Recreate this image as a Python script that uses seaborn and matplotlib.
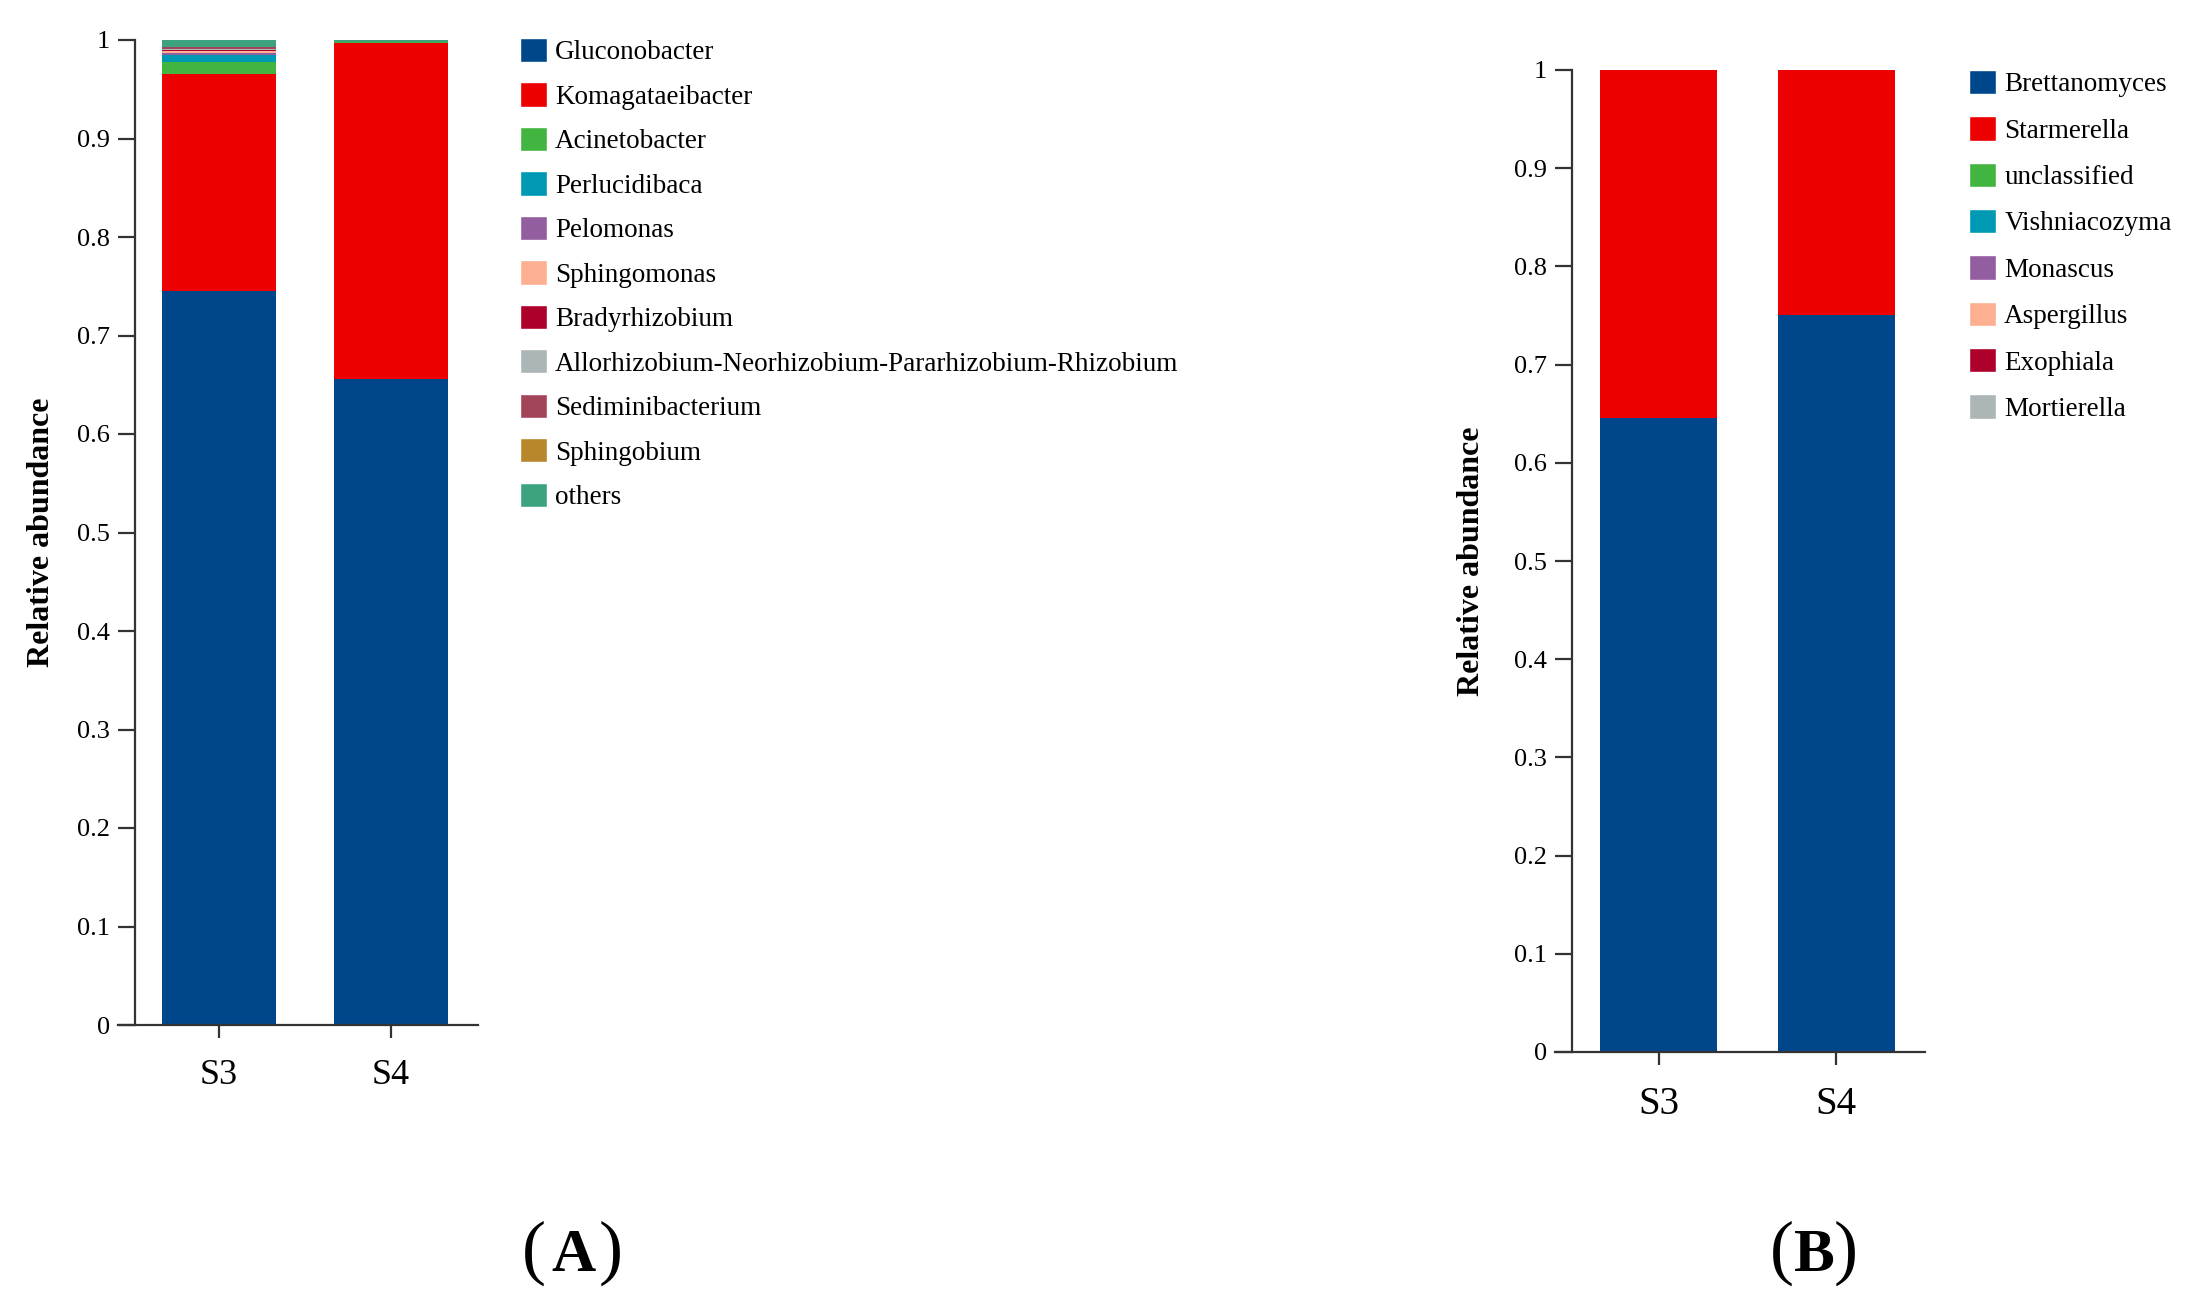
import numpy as np
import matplotlib
matplotlib.use("Agg")
import matplotlib.pyplot as plt
from matplotlib.patches import Patch
import seaborn as sns

# ---- data ----
samples = ["S3", "S4"]

bact_taxa = ["Gluconobacter", "Komagataeibacter", "Acinetobacter", "Perlucidibaca",
             "Pelomonas", "Sphingomonas", "Bradyrhizobium",
             "Allorhizobium-Neorhizobium-Pararhizobium-Rhizobium",
             "Sediminibacterium", "Sphingobium", "others"]
bact_s3 = [0.745, 0.220, 0.013, 0.007, 0.002, 0.002, 0.001, 0.001, 0.002, 0.000, 0.007]
bact_s4 = [0.656, 0.341, 0.001, 0.000, 0.000, 0.000, 0.000, 0.000, 0.000, 0.000, 0.002]
bact_colors = ["#00468B", "#ED0000", "#42B540", "#0099B4", "#925E9F", "#FDAF91",
               "#AD002A", "#ADB6B6", "#A4445A", "#B8862B", "#3DA37E"]

fungi_taxa = ["Brettanomyces", "Starmerella", "unclassified", "Vishniacozyma",
              "Monascus", "Aspergillus", "Exophiala", "Mortierella"]
fungi_s3 = [0.646, 0.354, 0.0, 0.0, 0.0, 0.0, 0.0, 0.0]
fungi_s4 = [0.751, 0.249, 0.0, 0.0, 0.0, 0.0, 0.0, 0.0]
fungi_colors = ["#00468B", "#ED0000", "#42B540", "#0099B4", "#925E9F", "#FDAF91",
                "#AD002A", "#ADB6B6"]

ytick_vals = [0, 0.1, 0.2, 0.3, 0.4, 0.5, 0.6, 0.7, 0.8, 0.9, 1]
ytick_labels = ["0", "0.1", "0.2", "0.3", "0.4", "0.5", "0.6", "0.7", "0.8", "0.9", "1"]

sns.set_style("ticks")
plt.rcParams['font.family'] = ['Liberation Serif', 'DejaVu Serif']
plt.rcParams['axes.linewidth'] = 1.6
plt.rcParams['axes.edgecolor'] = '#333333'
for k in ['text.color', 'axes.labelcolor', 'xtick.labelcolor', 'ytick.labelcolor']:
    plt.rcParams[k] = 'black'

fig = plt.figure(figsize=(22.08, 13.06), dpi=100)
W, H = 2208, 1306


def stacked(ax, taxa, v3, v4, colors, width):
    bottom = np.zeros(2)
    for name, a, b, c in zip(taxa, v3, v4, colors):
        vals = np.array([a, b])
        sns.barplot(x=samples, y=vals, bottom=bottom, color=c, saturation=1,
                    width=width, errorbar=None, linewidth=0, ax=ax)
        bottom = bottom + vals


def style_axes(ax, xlim, spine_x, lab_x, xfs):
    ax.set_xlim(*xlim)
    ax.set_ylim(0, 1)
    sns.despine(ax=ax)
    ax.spines['left'].set_position(('data', spine_x))
    ax.set_yticks(ytick_vals)
    ax.set_yticklabels(ytick_labels)
    ax.tick_params(axis='y', length=12, width=1.6, pad=6, labelsize=19, color='#333333')
    ax.tick_params(axis='x', length=9.5, width=1.6, pad=15, labelsize=xfs, color='#333333')
    ax.set_ylabel("Relative abundance", fontsize=23, fontweight='bold')
    ax.yaxis.set_label_coords(lab_x, 0.5)
    ax.set_xlabel("")


# ---- panel A: bacteria ----
axA = fig.add_axes([118 / W, 1 - 1025 / H, 360 / W, 985 / H])
stacked(axA, bact_taxa, bact_s3, bact_s4, bact_colors, 0.665)
style_axes(axA, (-0.589, 1.51), -0.49, -0.172, 26)
axA.legend(handles=[Patch(facecolor=c, label=t) for t, c in zip(bact_taxa, bact_colors)],
           loc='upper left', bbox_to_anchor=(520 / W, 1 - 38 / H),
           bbox_transform=fig.transFigure, frameon=False, fontsize=19.5,
           handlelength=1.0, handleheight=1.0, labelspacing=0.63,
           handletextpad=0.3, borderpad=0, borderaxespad=0)

# ---- panel B: fungi ----
axB = fig.add_axes([1555 / W, 1 - 1052 / H, 370 / W, 982 / H])
stacked(axB, fungi_taxa, fungi_s3, fungi_s4, fungi_colors, 0.66)
style_axes(axB, (-0.583, 1.50), -0.487, -0.186, 28)
axB.legend(handles=[Patch(facecolor=c, label=t) for t, c in zip(fungi_taxa, fungi_colors)],
           loc='upper left', bbox_to_anchor=(1969 / W, 1 - 70 / H),
           bbox_transform=fig.transFigure, frameon=False, fontsize=19.5,
           handlelength=1.0, handleheight=1.0, labelspacing=0.70,
           handletextpad=0.3, borderpad=0, borderaxespad=0)

# ---- panel letters ----
base_y = 1 - 1271 / H
for xp, xl, xq, letter in [(534, 574, 611, "A"), (1782, 1814, 1846, "B")]:
    fig.text(xp / W, base_y, "(", fontsize=52, ha='center', va='baseline')
    fig.text(xl / W, base_y, letter, fontsize=44, fontweight='bold', ha='center', va='baseline')
    fig.text(xq / W, base_y, ")", fontsize=52, ha='center', va='baseline')

fig.savefig("out.png", dpi=100)
